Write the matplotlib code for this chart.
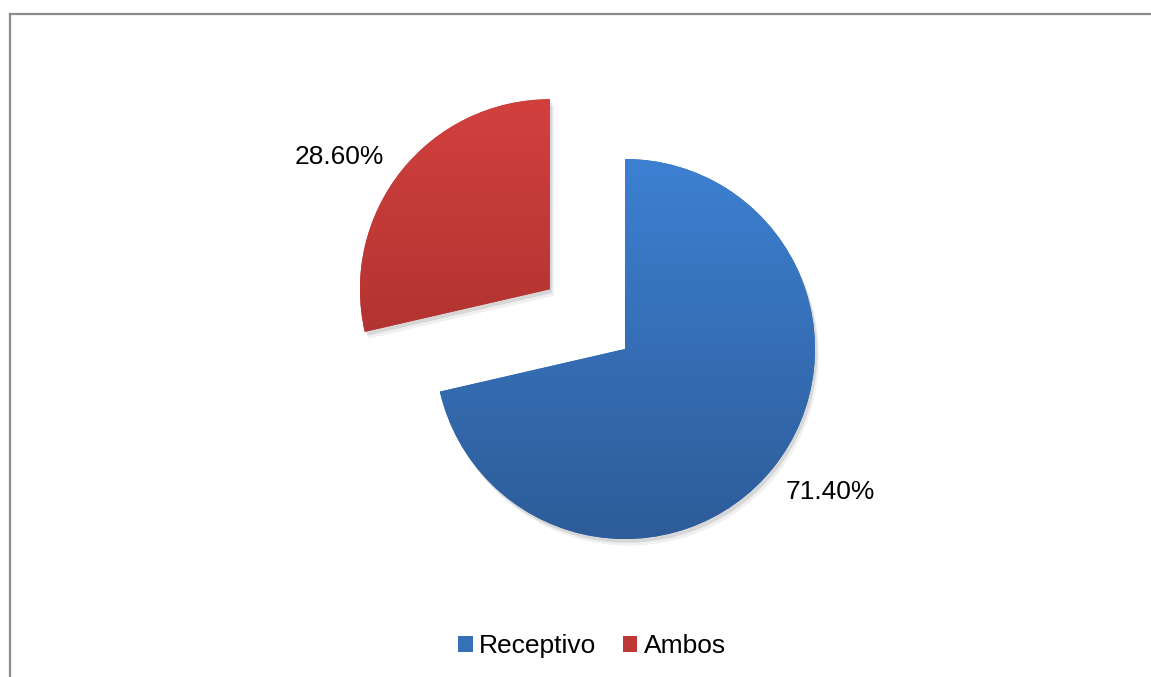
import numpy as np
import matplotlib
matplotlib.use("Agg")
import matplotlib.pyplot as plt
from matplotlib.patches import Patch, Wedge
from matplotlib.lines import Line2D
from matplotlib.colors import LinearSegmentedColormap

categories = ["Receptivo", "Ambos"]
values = [71.4, 28.6]
labels = ["71.40%", "28.60%"]
explode = [0.0, 0.505]
top_colors = ["#3D80D2", "#D2403E"]
bottom_colors = ["#2D5C98", "#9E2C2A"]
mid_colors = ["#3570B8", "#BE3836"]

W, H = 1151, 677
fig = plt.figure(figsize=(W / 100, H / 100), dpi=100)
plt.rcParams['font.family'] = ['Liberation Sans', 'DejaVu Sans']

ax = fig.add_axes([0, 0, 1, 1])
cx, cy, R = 625, 349, 190

wedges, _ = ax.pie(values, explode=explode, startangle=90, counterclock=False,
                   colors=mid_colors, radius=1.0, center=(0, 0), frame=True,
                   wedgeprops=dict(linewidth=0))
ax.set_aspect("auto")
ax.axis("off")

# shadows and gradients
for i, w in enumerate(wedges):
    c = w.center
    th1, th2 = w.theta1, w.theta2
    for off, a in [(0.02, 0.10), (0.035, 0.06)]:
        sh = Wedge((c[0] + off * 0.6, c[1] - off), 1.0, th1, th2, facecolor="black",
                   alpha=a, linewidth=0, zorder=0.5)
        ax.add_patch(sh)
    w.set_zorder(1)
    cmap = LinearSegmentedColormap.from_list("g%d" % i, [bottom_colors[i], top_colors[i]])
    grad = np.linspace(0, 1, 256).reshape(-1, 1)
    im = ax.imshow(grad, cmap=cmap, origin="lower", aspect="auto",
                   extent=[c[0] - 1.0, c[0] + 1.0, c[1] - 1.0, c[1] + 1.0], zorder=2,
                   interpolation="bilinear")
    im.set_clip_path(w)

ax.set_xlim(-cx / R, (W - cx) / R)
ax.set_ylim(-(H - cy) / R, cy / R)

# labels
label_dist = [1.316, 1.31]
label_shift = [3.6, 6.3]
for i, w in enumerate(wedges):
    c = w.center
    mid = np.deg2rad((w.theta1 + w.theta2) / 2 + label_shift[i])
    ax.text(c[0] + label_dist[i] * np.cos(mid), c[1] + label_dist[i] * np.sin(mid),
            labels[i], ha="center", va="center", fontsize=19, color="black")

# border (top and left)
fig.add_artist(Line2D([10 / W, 1.0], [1 - 14 / H, 1 - 14 / H], transform=fig.transFigure,
                      color="#8C8C8C", linewidth=1.6))
fig.add_artist(Line2D([10 / W, 10 / W], [0, 1 - 14 / H], transform=fig.transFigure,
                      color="#8C8C8C", linewidth=1.6))

handles = [Patch(facecolor=mid_colors[i], edgecolor="none") for i in range(2)]
fig.legend(handles, categories, loc="center", bbox_to_anchor=(592 / W, 1 - 646 / H),
           ncol=2, frameon=False, fontsize=19, handlelength=0.55, handleheight=0.55,
           handletextpad=0.25, columnspacing=1.0)

fig.savefig("out.png", dpi=100)
